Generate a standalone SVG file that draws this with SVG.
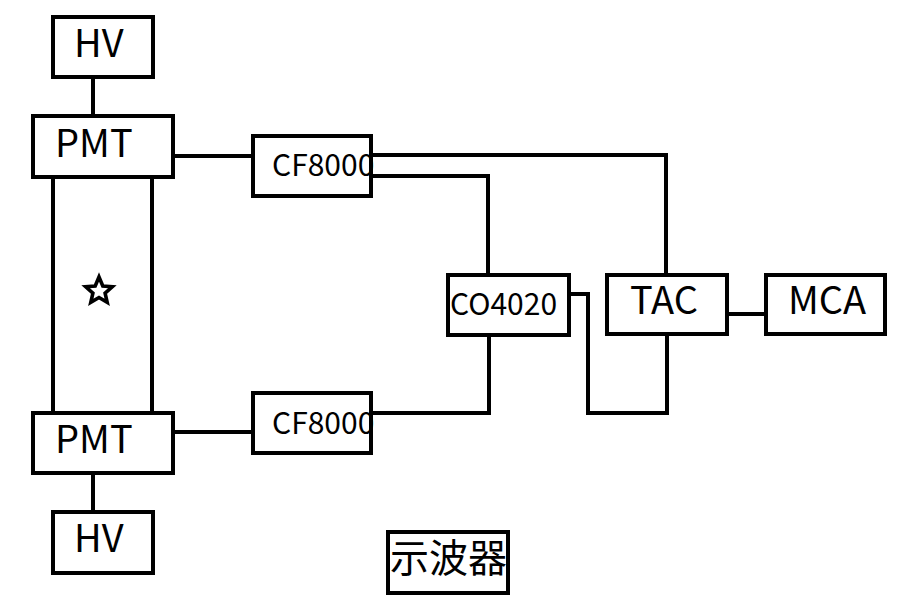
<svg xmlns="http://www.w3.org/2000/svg" width="907" height="614" viewBox="0 0 907 614">
<style>
.box{fill:#fff;stroke:#000;stroke-width:4}
.ln{fill:none;stroke:#000;stroke-width:4}
text{font-family:"Noto Sans CJK SC","Noto Sans",sans-serif;fill:#000}
.big{font-size:38px}
.sm{font-size:30px}
.cjk{font-size:39px}
</style>
<rect width="907" height="614" fill="#fff"/>
<g id="connectors">
<line class="ln" x1="93" y1="77" x2="93" y2="116"/>
<line class="ln" x1="93" y1="473" x2="93" y2="512"/>
<line class="ln" x1="53" y1="177" x2="53" y2="413"/>
<line class="ln" x1="152" y1="177" x2="152" y2="413"/>
<line class="ln" x1="173" y1="156" x2="253" y2="156"/>
<line class="ln" x1="173" y1="432" x2="253" y2="432"/>
<polyline class="ln" points="371,155 666,155 666,275"/>
<polyline class="ln" points="371,176 488,176 488,275"/>
<polyline class="ln" points="489,335 489,413 371,413"/>
<polyline class="ln" points="569,294 588,294 588,413 667,413 667,334"/>
<line class="ln" x1="727" y1="314" x2="766" y2="314"/>
</g>
<g id="hv-top"><rect class="box" x="53" y="17" width="100" height="60"/><text class="big" x="74" y="57">HV</text></g>
<g id="pmt-top"><rect class="box" x="33" y="116" width="140" height="61"/><text class="big" x="55" y="157">PMT</text></g>
<g id="star"><polygon points="99,277 102.8,286 112.3,286.8 105.1,293.1 107.2,302.4 99,297.5 90.8,302.4 92.9,293.1 85.7,286.8 95.2,286" fill="none" stroke="#000" stroke-width="3.6" stroke-linejoin="miter"/></g>
<g id="pmt-bottom"><rect class="box" x="33" y="413" width="140" height="60"/><text class="big" x="55" y="453">PMT</text></g>
<g id="hv-bottom"><rect class="box" x="53" y="512" width="100" height="61"/><text class="big" x="74" y="552">HV</text></g>
<g id="cf8000-top"><rect class="box" x="253" y="136" width="118" height="60"/><text class="sm" x="272" y="176">CF8000</text></g>
<g id="cf8000-bottom"><rect class="box" x="253" y="393" width="118" height="60"/><text class="sm" x="272" y="434">CF8000</text></g>
<g id="co4020"><rect class="box" x="448" y="275" width="121" height="60"/><text class="sm" x="450" y="315">CO4020</text></g>
<g id="tac"><rect class="box" x="607" y="275" width="120" height="59"/><text class="big" x="630" y="314">TAC</text></g>
<g id="mca"><rect class="box" x="766" y="275" width="119" height="59"/><text class="big" x="788" y="314">MCA</text></g>
<g id="oscilloscope"><rect class="box" x="388" y="532" width="120" height="61"/><text class="cjk" x="390" y="572">示波器</text></g>
</svg>
